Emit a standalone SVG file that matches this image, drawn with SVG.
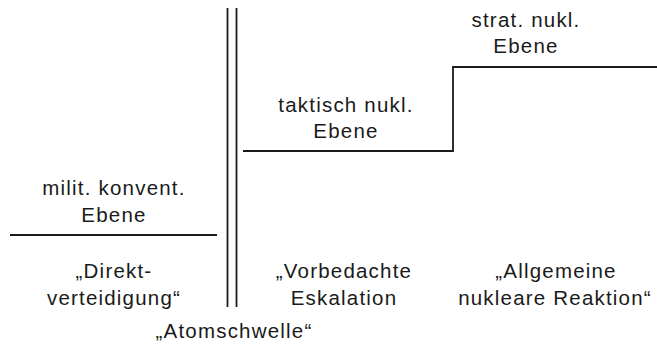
<svg xmlns="http://www.w3.org/2000/svg" width="657" height="356" viewBox="0 0 657 356">
<style>
text{font-family:"Liberation Sans",Arial,sans-serif;font-size:20.5px;letter-spacing:1.2px;fill:#1a1a1a;text-anchor:middle}
.ln{stroke:#1a1a1a;stroke-width:1.8;fill:none}
</style>
<rect width="657" height="356" fill="#fff"/>
<g id="connectors">
<line class="ln" x1="227.5" y1="8" x2="227.5" y2="307"/>
<line class="ln" x1="236.5" y1="8" x2="236.5" y2="307"/>
<line class="ln" x1="10" y1="235" x2="217" y2="235"/>
<polyline class="ln" points="243,151 453,151 453,67 657,67"/>
</g>
<g id="konv"><text x="114" y="195">milit. konvent.</text><text x="114" y="222">Ebene</text></g>
<g id="takt"><text x="346" y="112">taktisch nukl.</text><text x="346" y="138">Ebene</text></g>
<g id="strat"><text x="526" y="27">strat. nukl.</text><text x="526" y="53">Ebene</text></g>
<g id="direkt"><text x="114" y="278">„Direkt-</text><text x="114" y="305">verteidigung“</text></g>
<g id="vorb"><text x="344" y="278">„Vorbedachte</text><text x="344" y="305">Eskalation</text></g>
<g id="allg"><text x="556" y="278">„Allgemeine</text><text x="555" y="305">nukleare Reaktion“</text></g>
<g id="atom"><text x="234" y="338">„Atomschwelle“</text></g>
</svg>
